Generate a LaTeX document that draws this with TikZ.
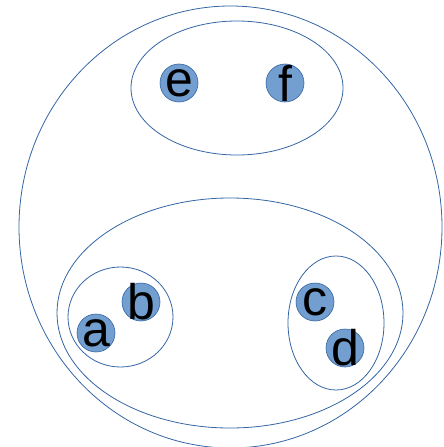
\documentclass[tikz,border=0pt]{standalone}
\usepackage{fontspec}
\setmainfont{Liberation Sans}
\usetikzlibrary{shapes.geometric}
\definecolor{lineblue}{HTML}{3465A4}
\definecolor{fillblue}{HTML}{729FCF}
\tikzset{
  setring/.style={draw=lineblue, line width=0.8pt, ellipse, inner sep=0pt},
  elem/.style={circle, draw=lineblue, line width=0.6pt, fill=fillblue, minimum size=38pt, inner sep=0pt,
    label={[font=\fontsize{50}{50}\selectfont, text=black, inner sep=0pt]center:#1}}
}
\begin{document}
\begin{tikzpicture}[x=1pt,y=-1pt]
\useasboundingbox (0,0) rectangle (444,447);
\node[setring, minimum width=423pt, minimum height=442pt] (outer) at (230.5,227) {};
\node[setring, minimum width=212pt, minimum height=134pt] (top) at (237,88) {};
\node[setring, minimum width=346pt, minimum height=230pt] (bottom) at (230,313) {};
\node[setring, minimum width=105pt, minimum height=100pt] (ab) at (120.5,317) {};
\node[setring, minimum width=96pt, minimum height=134pt] (cd) at (336,323) {};
\node[elem=e] (e) at (179,83) {};
\node[elem=f] (f) at (285,83) {};
\node[elem=a] (a) at (96,333) {};
\node[elem=b] (b) at (141,302) {};
\node[elem=c] (c) at (315,302) {};
\node[elem=d] (d) at (345,348) {};
\end{tikzpicture}
\end{document}
